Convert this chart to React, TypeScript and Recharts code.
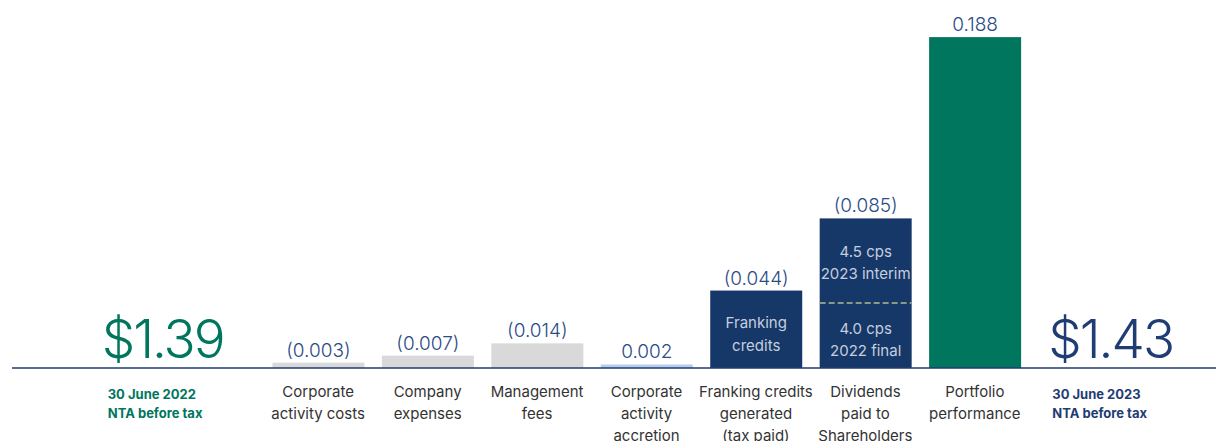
import React from 'react';
import { BarChart, Bar, XAxis, YAxis, Cell, LabelList } from 'recharts';

// ---- data ----
const categories = [
  'NTA 30 June 2022',
  'Corporate activity costs',
  'Company expenses',
  'Management fees',
  'Corporate activity accretion',
  'Franking credits generated (tax paid)',
  'Dividends paid to Shareholders',
  'Portfolio performance',
  'NTA 30 June 2023',
];
const tickLines: string[][] = [
  ['30 June 2022', 'NTA before tax'],
  ['Corporate', 'activity costs'],
  ['Company', 'expenses'],
  ['Management', 'fees'],
  ['Corporate', 'activity', 'accretion'],
  ['Franking credits', 'generated', '(tax paid)'],
  ['Dividends', 'paid to', 'Shareholders'],
  ['Portfolio', 'performance'],
  ['30 June 2023', 'NTA before tax'],
];
const movements: (number | null)[] = [null, -0.003, -0.007, -0.014, 0.002, -0.044, -0.085, 0.188, null];
const valueLabels = ['', '(0.003)', '(0.007)', '(0.014)', '0.002', '(0.044)', '(0.085)', '0.188', ''];
const ntaLabels = ['$1.39', '', '', '', '', '', '', '', '$1.43'];
const innerLabels: string[][] = [[], [], [], [], [], ['Franking', 'credits'], [], [], []];
const dividendInterim = 0.048; // 4.5 cps 2023 interim (upper part)
const dividendFinal = 0.037; // 4.0 cps 2022 final (lower part)
const dividendInterimLabel = ['4.5 cps', '2023 interim'];
const dividendFinalLabel = ['4.0 cps', '2022 final'];

// ---- styles ----
const GREEN = '#00765e';
const NAVY = '#163869';
const NAVY_TEXT = '#1f3c73';
const GREY = '#d9d9d9';
const LIGHT_BLUE = '#b7cdec';
const barColors = ['none', GREY, GREY, GREY, LIGHT_BLUE, NAVY, NAVY, GREEN, 'none'];
const FONT = 'Inter, "Open Sans", sans-serif';

const data = categories.map((c, i) => ({
  category: c,
  size: movements[i] == null ? null : Math.abs(movements[i] as number),
  label: valueLabels[i],
  index: i,
}));

const Tick = (props: any) => {
  const { x, y, payload } = props;
  const i = payload.index;
  const lines = tickLines[i];
  const last = categories.length - 1;
  if (i === 0 || i === last) {
    const color = i === 0 ? GREEN : NAVY_TEXT;
    const dx = i === 0 ? -101 : -32;
    const bdx = i === 0 ? -107 : -36;
    return (
      <g>
        <text x={x + bdx} y={y - 10} fontSize={53} fontWeight={300} fill={color} fontFamily={FONT} letterSpacing={-2}>
          {ntaLabels[i]}
        </text>
        {lines.map((l, k) => (
          <text key={k} x={x + dx} y={y + 31 + k * 19} fontSize={13} fontWeight={700} fill={color} fontFamily={FONT}>
            {l}
          </text>
        ))}
      </g>
    );
  }
  return (
    <g>
      {lines.map((l, k) => (
        <text key={k} x={x} y={y + 29 + k * 22} fontSize={15} fill="#333333" textAnchor="middle" fontFamily={FONT}>
          {l}
        </text>
      ))}
    </g>
  );
};

const BarShape = (props: any) => {
  const { x, y, width, height, fill, payload } = props;
  if (!height || height <= 0) return null;
  const i = payload.index;
  const txt = { fontSize: 15, fill: '#c5cede', textAnchor: 'middle' as const, fontFamily: FONT };
  const cx = x + width / 2;
  if (i === 6) {
    const total = dividendInterim + dividendFinal;
    const yLine = y + height * (dividendInterim / total);
    const upperMid = (y + yLine) / 2 + 2;
    const lowerMid = (yLine + y + height) / 2 + 5;
    return (
      <g>
        <rect x={x} y={y} width={width} height={height} fill={fill} />
        <line x1={x} x2={x + width} y1={yLine} y2={yLine} stroke="#8a9a88" strokeWidth={2} strokeDasharray="6 3" />
        <text {...txt} x={cx} y={upperMid - 6}>{dividendInterimLabel[0]}</text>
        <text {...txt} x={cx} y={upperMid + 16}>{dividendInterimLabel[1]}</text>
        <text {...txt} x={cx} y={lowerMid - 6}>{dividendFinalLabel[0]}</text>
        <text {...txt} x={cx} y={lowerMid + 16}>{dividendFinalLabel[1]}</text>
      </g>
    );
  }
  const inner = innerLabels[i];
  const mid = y + height / 2 + 5;
  return (
    <g>
      <rect x={x} y={y} width={width} height={height} fill={fill} />
      {inner.map((l, k) => (
        <text key={k} {...txt} x={cx} y={mid - 6 + k * 23}>{l}</text>
      ))}
    </g>
  );
};

export default function App() {
  return (
    <BarChart
      width={1216}
      height={433}
      data={data}
      margin={{ top: 8, right: 0, bottom: 0, left: 4 }}
      barSize={92}
    >
      <XAxis
        dataKey="category"
        height={73}
        interval={0}
        tickLine={false}
        tickSize={0}
        tickMargin={0}
        tick={<Tick />}
        padding={{ left: 142, right: 85 }}
        axisLine={{ stroke: NAVY_TEXT, strokeWidth: 1.5 }}
      />
      <YAxis hide domain={[0, 0.2]} />
      <Bar dataKey="size" isAnimationActive={false} shape={<BarShape />}>
        {data.map((d, i) => (
          <Cell key={i} fill={barColors[i]} />
        ))}
        <LabelList
          dataKey="label"
          position="top"
          offset={6}
          style={{ fontSize: 19, fontWeight: 300, fill: '#2b4c86', fontFamily: FONT }}
        />
      </Bar>
    </BarChart>
  );
}
